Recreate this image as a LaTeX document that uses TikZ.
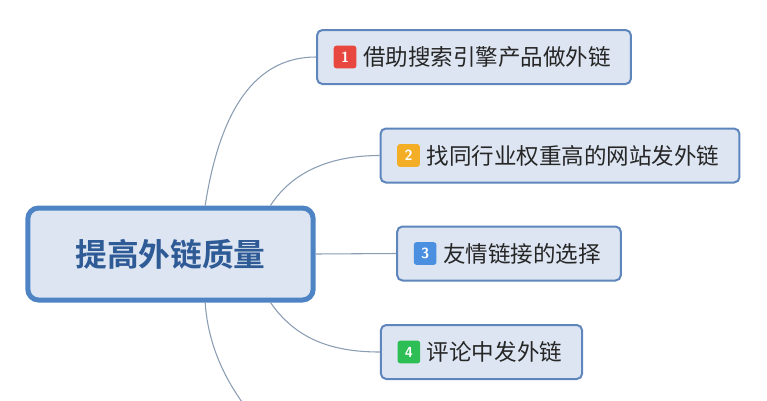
\documentclass[tikz,border=0pt]{standalone}
\usepackage{fontspec}
\newfontfamily\cjk{Noto Sans CJK SC}[BoldFont={* Bold}]
\definecolor{boxfill}{HTML}{DCE5F1}
\definecolor{boxline}{HTML}{5E86BC}
\definecolor{mainline}{HTML}{4E84C4}
\definecolor{maintext}{HTML}{2E5A96}
\definecolor{linkline}{HTML}{8A9DB3}
\definecolor{badgered}{HTML}{E8473F}
\definecolor{badgeorange}{HTML}{F4AE25}
\definecolor{badgeblue}{HTML}{4A8FE0}
\definecolor{badgegreen}{HTML}{2DBE55}
\tikzset{
  topic/.style={draw=boxline, line width=1.5pt, fill=boxfill, rounded corners=4pt,
    minimum height=40.5pt, inner xsep=15pt, font=\cjk\fontsize{16.9}{17}\selectfont, text=black!85},
  central/.style={draw=mainline, line width=3.75pt, fill=boxfill, rounded corners=8pt,
    minimum width=214pt, minimum height=69pt, font=\cjk\bfseries\fontsize{23.8}{24}\selectfont, text=maintext},
  badge/.style={rounded corners=2pt, minimum size=17pt, inner sep=0pt,
    font=\sffamily\bfseries\fontsize{11}{11}\selectfont, text=white},
  link/.style={draw=linkline, line width=0.8pt}
}
\newcommand{\gap}{\hspace*{19.5pt}}
\begin{document}
\begin{tikzpicture}[x=0.75pt,y=-0.75pt]
                \useasboundingbox (0,0) rectangle (767,400);
                \node[central] (main) at (170.5,254) {提高外链质量};
                \node[topic] (t1) at (474,57) {\gap 借助搜索引擎产品做外链};
                \node[topic] (t2) at (560,155.5) {\gap 找同行业权重高的网站发外链};
                \node[topic] (t3) at (509,253.5) {\gap 友情链接的选择};
                \node[topic] (t4) at (481.5,352) {\gap 评论中发外链};
                \node[badge, fill=badgered] (b1) at ([xshift=21.75pt]t1.west) {1};
                \node[badge, fill=badgeorange] (b2) at ([xshift=21.75pt]t2.west) {2};
                \node[badge, fill=badgeblue] (b3) at ([xshift=21.75pt]t3.west) {3};
                \node[badge, fill=badgegreen] (b4) at ([xshift=21.75pt]t4.west) {4};
                \coordinate (t5) at (242,402);
                \begin{scope}[on background layer/.try]
                    \draw[link] ([xshift=26pt]main.north) .. controls (220,110) and (255,57) .. (t1.west);
                    \draw[link] ([xshift=75pt]main.north) .. controls (292,172) and (330,155.5) .. (t2.west);
                    \draw[link] (main.east) -- (t3.west);
                    \draw[link] ([xshift=75pt]main.south) .. controls (295,338) and (330,352) .. (t4.west);
                    \draw[link] ([xshift=26pt]main.south) .. controls (208,345) and (225,378) .. (t5);
                \end{scope}
            \end{tikzpicture}
\end{document}
